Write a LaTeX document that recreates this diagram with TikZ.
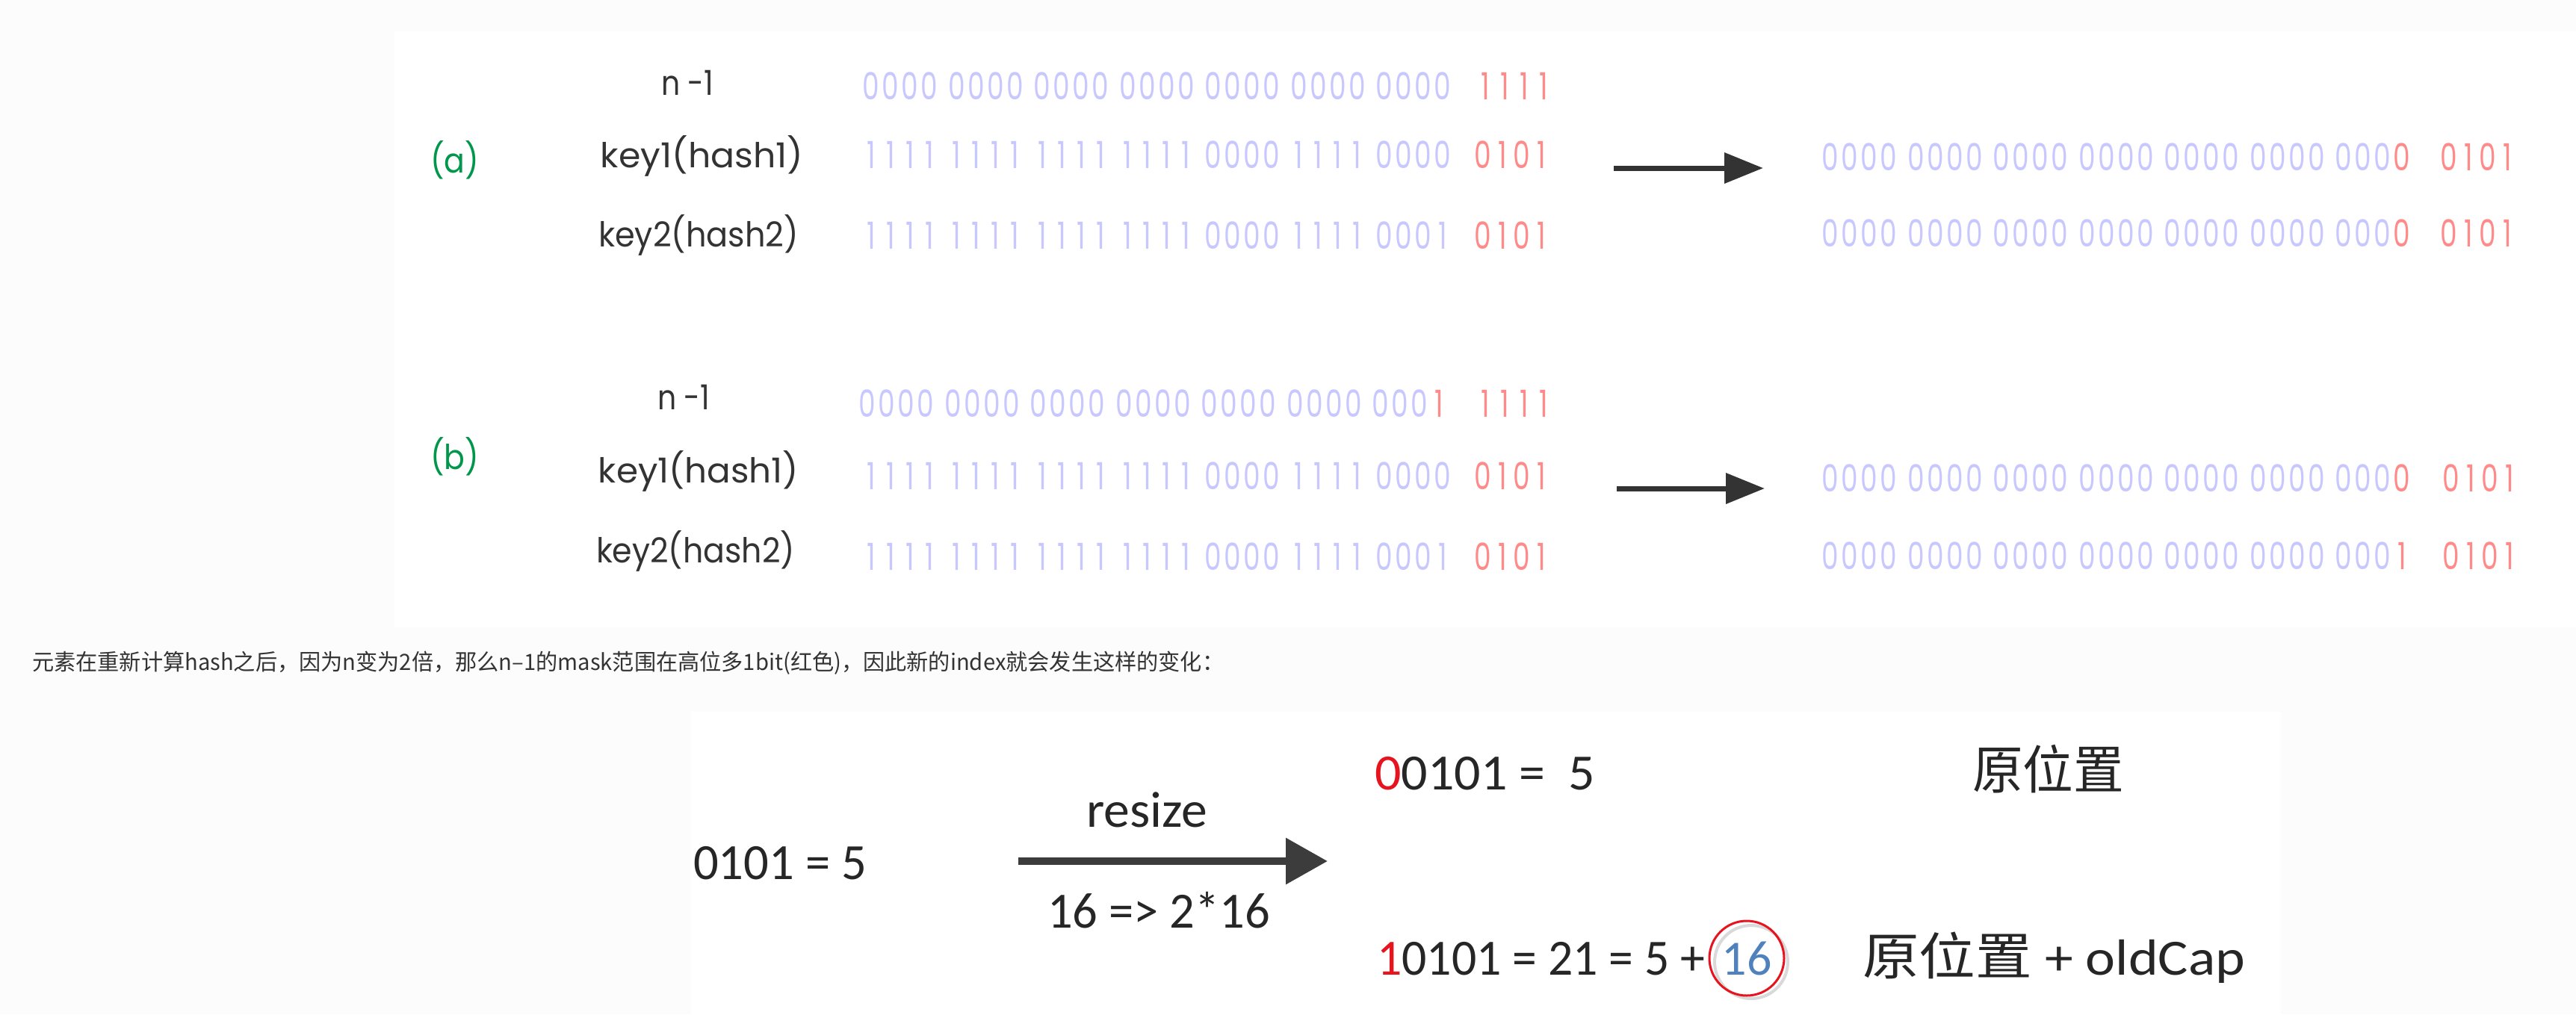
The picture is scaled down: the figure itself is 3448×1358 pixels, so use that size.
\documentclass[tikz,border=0pt]{standalone}
\usepackage{fontspec}
\usepackage{graphicx}
\usetikzlibrary{arrows.meta}
\newfontfamily\geo{Poppins}
\newfontfamily\calf{Carlito}
\newfontfamily\cjk{Noto Sans CJK SC}
\definecolor{pagebg}{HTML}{FCFCFC}
\definecolor{bitblue}{RGB}{200,200,255}
\definecolor{bitred}{RGB}{255,138,138}
\definecolor{lblgreen}{RGB}{0,150,75}
\definecolor{ink}{HTML}{333333}
\definecolor{inkb}{HTML}{262626}
\definecolor{capred}{RGB}{230,20,30}
\definecolor{capblue}{RGB}{79,129,189}
\newcommand\fitw[2]{\resizebox{#1pt}{\height}{#2}}
\newcommand\dg[1]{\makebox[26pt][c]{\scalebox{0.72}[1]{#1}}}
\newcommand\q[4]{\dg{#1}\dg{#2}\dg{#3}\dg{#4}}
\newcommand\gp{\hspace{10.5pt}}
\newcommand\rd[1]{\textcolor{bitred}{#1}}
\tikzset{
 lbl/.style={inner sep=0, anchor=center, text=ink, font=\geo\fontsize{46}{50}\selectfont},
 lblbase/.style={lbl, anchor=base},
 tag/.style={lbl, text=lblgreen},
 bits/.style={inner sep=0, anchor=base west, text=bitblue, font=\geo\fontsize{50}{56}\selectfont},
 rbits/.style={bits, text=bitred},
 bigarrow/.style={draw=ink, line width=7pt, -{Triangle[length=52pt,width=40pt]}},
 resarrow/.style={draw=inkb!90, line width=10pt, -{Triangle[length=56pt,width=60pt]}},
 big/.style={inner sep=0, anchor=base west, text=inkb, font=\calf\fontsize{68}{80}\selectfont},
 bigcjk/.style={big, font=\cjk\fontsize{70}{80}\selectfont},
 caption/.style={inner sep=0, anchor=base west, text=ink, font=\cjk\fontsize{30}{36}\selectfont},
}
\begin{document}
\begin{tikzpicture}[x=1pt,y=-1pt]
\useasboundingbox (0,0) rectangle (3448,1358);
\fill[pagebg] (0,0) rectangle (3448,1358);
\fill[white] (528,42) rectangle (3448,840);
\fill[white] (925,953) rectangle (3053,1358);

% ---- (a)
\node[tag] (ta) at (608.5,214) {\fitw{65}{(a)}};
\node[lblbase] (na) at (920,127) {\fitw{70}{n -1}};
\node[lbl] (k1a) at (939.5,208.5) {\fitw{271}{key1(hash1)}};
\node[lbl] (k2a) at (935,315) {\fitw{268}{key2(hash2)}};
\node[bits] (ba0) at (1153,133) {\q0000\gp\q0000\gp\q0000\gp\q0000\gp\q0000\gp\q0000\gp\q0000};
\node[rbits] (ra0) at (1975,133) {\q1111};
\node[bits] (ba1) at (1153,225) {\q1111\gp\q1111\gp\q1111\gp\q1111\gp\q0000\gp\q1111\gp\q0000};
\node[rbits] (ra1) at (1972,225) {\q0101};
\node[bits] (ba2) at (1153,333) {\q1111\gp\q1111\gp\q1111\gp\q1111\gp\q0000\gp\q1111\gp\q0001};
\node[rbits] (ra2) at (1972,333) {\q0101};
\coordinate (aas) at (2160,225);
\coordinate (aae) at (2360,225);
\draw[bigarrow] (aas) -- (aae);
\node[bits] (oa1) at (2437,228) {\q0000\gp\q0000\gp\q0000\gp\q0000\gp\q0000\gp\q0000\gp\q000{\rd0}};
\node[rbits] (qa1) at (3265,228) {\q0101};
\node[bits] (oa2) at (2437,330) {\q0000\gp\q0000\gp\q0000\gp\q0000\gp\q0000\gp\q0000\gp\q000{\rd0}};
\node[rbits] (qa2) at (3265,330) {\q0101};

% ---- (b)
\node[tag] (tb) at (608.5,611.5) {\fitw{65}{(b)}};
\node[lblbase] (nb) at (915,548) {\fitw{70}{n -1}};
\node[lbl] (k1b) at (935,631) {\fitw{268}{key1(hash1)}};
\node[lbl] (k2b) at (931,737.5) {\fitw{266}{key2(hash2)}};
\node[bits] (bb0) at (1148,558) {\q0000\gp\q0000\gp\q0000\gp\q0000\gp\q0000\gp\q0000\gp\q000{\rd1}};
\node[rbits] (rb0) at (1975,558) {\q1111};
\node[bits] (bb1) at (1153,655) {\q1111\gp\q1111\gp\q1111\gp\q1111\gp\q0000\gp\q1111\gp\q0000};
\node[rbits] (rb1) at (1972,655) {\q0101};
\node[bits] (bb2) at (1153,763) {\q1111\gp\q1111\gp\q1111\gp\q1111\gp\q0000\gp\q1111\gp\q0001};
\node[rbits] (rb2) at (1972,763) {\q0101};
\coordinate (abs) at (2164,654);
\coordinate (abe) at (2362,654);
\draw[bigarrow] (abs) -- (abe);
\node[bits] (ob1) at (2437,658) {\q0000\gp\q0000\gp\q0000\gp\q0000\gp\q0000\gp\q0000\gp\q000{\rd0}};
\node[rbits] (qb1) at (3268,658) {\q0101};
\node[bits] (ob2) at (2437,762) {\q0000\gp\q0000\gp\q0000\gp\q0000\gp\q0000\gp\q0000\gp\q000{\rd1}};
\node[rbits] (qb2) at (3268,762) {\q0101};

% ---- caption
\node[caption] (cap) at (43,897) {\fitw{1595}{元素在重新计算hash之后，因为n变为2倍，那么n–1的mask范围在高位多1bit(红色)，因此新的index就会发生这样的变化：}};

% ---- bottom panel
\node[big] (src) at (928,1177) {\fitw{232}{0101 = 5}};
\node[big] (rs) at (1454,1107) {\fitw{162}{resize}};
\node[big] (dbl) at (1402,1242) {\fitw{298}{16 => 2*16}};
\coordinate (rsa) at (1363,1153);
\coordinate (rse) at (1777,1153);
\draw[resarrow] (rsa) -- (rse);
\node[big] (lo) at (1840,1057) {\fitw{295}{\textcolor{capred}{0}0101 =\ \ 5}};
\node[bigcjk] (loz) at (2640,1056) {\fitw{203}{原位置}};
\node[big] (hi) at (1843,1305) {\fitw{439}{\textcolor{capred}{1}0101 = 21 = 5 +}};
\draw[black!15, line width=4pt] (2344,1288) circle (49);
\node[circle, draw=capred, line width=3pt, minimum size=100pt, inner sep=0, text=capblue, font=\calf\fontsize{66}{70}\selectfont] (c16) at (2338,1283) {\raisebox{-1pt}{16}};
\node[big] (hiz) at (2493,1305) {\fitw{512}{{\cjk 原位置} + oldCap}};
\end{tikzpicture}
\end{document}
